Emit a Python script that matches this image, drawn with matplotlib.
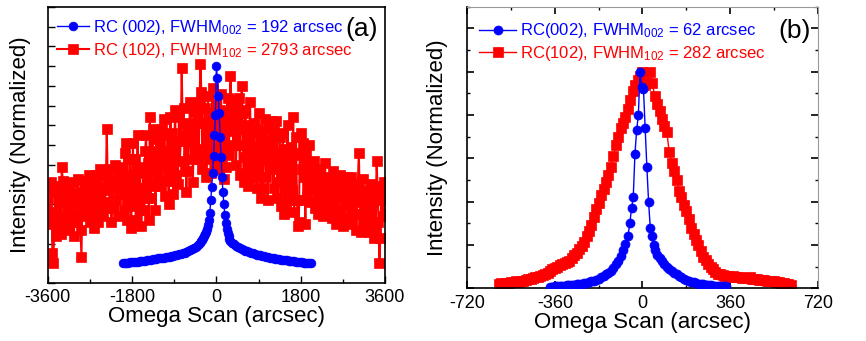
import numpy as np
import matplotlib
matplotlib.use("Agg")
import matplotlib.pyplot as plt
from matplotlib.ticker import MultipleLocator

plt.rcParams['font.family'] = ['Liberation Sans', 'DejaVu Sans']
plt.rcParams['mathtext.default'] = 'regular'
plt.rcParams['axes.unicode_minus'] = False

# ---------------- Panel (a) data ----------------
blue_a_x = list(range(-2000, -300, 40)) + list(range(-300, 301, 20)) + list(range(340, 2021, 40))
blue_a_y = [
    0.002, 0.003, 0.004, 0.004, 0.005, 0.006, 0.007, 0.008, 0.009, 0.010,
    0.012, 0.013, 0.014, 0.016, 0.017, 0.019, 0.020, 0.022, 0.023, 0.025,
    0.026, 0.028, 0.029, 0.031, 0.032, 0.034, 0.036, 0.038, 0.040, 0.042,
    0.045, 0.048, 0.051, 0.054, 0.058, 0.062, 0.066, 0.071, 0.077, 0.084,
    0.093, 0.103, 0.113,
    0.120, 0.128, 0.137, 0.148, 0.160, 0.175, 0.195, 0.220, 0.255, 0.320,
    0.385, 0.460, 0.545, 0.650, 0.750, 1.000, 0.940, 0.850, 0.760, 0.640,
    0.540, 0.440, 0.360, 0.300, 0.245, 0.205, 0.175, 0.155, 0.138, 0.125,
    0.115,
    0.104, 0.096, 0.090, 0.084, 0.078, 0.073, 0.068, 0.064, 0.060, 0.056,
    0.053, 0.050, 0.047, 0.044, 0.042, 0.040, 0.037, 0.035, 0.033, 0.031,
    0.029, 0.027, 0.026, 0.024, 0.022, 0.021, 0.019, 0.018, 0.016, 0.015,
    0.014, 0.012, 0.011, 0.010, 0.008, 0.007, 0.006, 0.005, 0.004, 0.003,
    0.003, 0.002, 0.002]

red_a_start, red_a_step = -3600, 20
red_a_y = [
    0.33, 0.20, 0.38, 0.26, 0.41, 0.05, 0.00, 0.22, 0.36, 0.14,
    0.24, 0.39, 0.19, 0.34, 0.15, 0.49, 0.42, 0.21, 0.32, 0.18,
    0.38, 0.24, 0.30, 0.17, 0.36, 0.41, 0.21, 0.32, 0.14, 0.35,
    0.21, 0.35, 0.43, 0.25, 0.32, 0.17, 0.03, 0.36, 0.28, 0.42,
    0.37, 0.24, 0.42, 0.30, 0.45, 0.21, 0.35, 0.26, 0.40, 0.18,
    0.30, 0.45, 0.25, 0.40, 0.21, 0.36, 0.48, 0.27, 0.38, 0.24,
    0.45, 0.31, 0.37, 0.68, 0.43, 0.48, 0.28, 0.39, 0.21, 0.42,
    0.28, 0.42, 0.50, 0.32, 0.39, 0.24, 0.47, 0.43, 0.35, 0.49,
    0.48, 0.27, 0.56, 0.37, 0.61, 0.22, 0.45, 0.30, 0.53, 0.18,
    0.37, 0.61, 0.29, 0.53, 0.22, 0.46, 0.65, 0.32, 0.49, 0.27,
    0.19, 0.38, 0.48, 0.27, 0.57, 0.65, 0.33, 0.51, 0.22, 0.74,
    0.33, 0.55, 0.68, 0.39, 0.51, 0.27, 0.63, 0.57, 0.44, 0.67,
    0.60, 0.39, 0.68, 0.49, 0.73, 0.34, 0.57, 0.42, 0.65, 0.30,
    0.50, 0.74, 0.42, 0.66, 0.35, 0.59, 0.78, 0.45, 0.62, 0.40,
    0.74, 0.52, 0.62, 0.99, 0.71, 0.79, 0.47, 0.65, 0.36, 0.70,
    0.47, 0.69, 0.82, 0.53, 0.65, 0.41, 0.77, 0.71, 0.58, 0.81,
    0.74, 0.53, 0.82, 1.01, 0.87, 0.48, 0.71, 0.56, 0.79, 0.44,
    0.61, 0.85, 0.53, 0.77, 0.46, 0.70, 0.89, 0.56, 0.73, 0.51,
    0.81, 0.59, 0.69, 0.48, 0.78, 0.86, 0.54, 0.72, 0.43, 0.77,
    0.49, 0.71, 0.84, 0.55, 0.67, 0.95, 0.79, 0.73, 0.60, 0.83,
    0.71, 0.50, 0.79, 0.60, 0.84, 0.45, 0.68, 0.90, 0.76, 0.41,
    0.54, 0.78, 0.46, 0.70, 0.39, 0.63, 0.82, 0.49, 0.66, 0.44,
    0.71, 0.49, 0.59, 0.38, 0.68, 0.76, 0.44, 0.62, 0.33, 0.67,
    0.38, 0.60, 0.73, 0.44, 0.56, 0.32, 0.68, 0.62, 0.49, 0.72,
    0.59, 0.38, 0.67, 0.48, 0.72, 0.33, 0.56, 0.41, 0.64, 0.29,
    0.42, 0.66, 0.25, 0.58, 0.27, 0.51, 0.70, 0.37, 0.54, 0.32,
    0.59, 0.37, 0.74, 0.26, 0.56, 0.64, 0.32, 0.19, 0.21, 0.55,
    0.66, 0.48, 0.61, 0.32, 0.44, 0.20, 0.56, 0.50, 0.37, 0.60,
    0.44, 0.31, 0.49, 0.37, 0.52, 0.28, 0.42, 0.33, 0.47, 0.25,
    0.33, 0.48, 0.28, 0.43, 0.24, 0.39, 0.51, 0.30, 0.41, 0.27,
    0.44, 0.30, 0.36, 0.23, 0.42, 0.47, 0.27, 0.38, 0.20, 0.41,
    0.23, 0.37, 0.45, 0.27, 0.34, 0.19, 0.42, 0.38, 0.30, 0.44,
    0.36, 0.23, 0.41, 0.29, 0.44, 0.20, 0.34, 0.25, 0.39, 0.17,
    0.25, 0.40, 0.56, 0.35, 0.16, 0.31, 0.43, 0.22, 0.33, 0.19,
    0.37, 0.23, 0.29, 0.16, 0.35, 0.40, 0.20, 0.31, 0.13, 0.34,
    0.17, 0.52, 0.39, 0.21, 0.00, 0.13, 0.36, 0.32, 0.24, 0.41,
    0.25]
red_a_x = red_a_start + red_a_step * np.arange(len(red_a_y))

# ---------------- Panel (b) data ----------------
blue_b_x = (list(range(-380, -59, 10)) + [-52, -45, -38, -31, -24, -17, -10, -3, 4, 11, 18, 25, 32, 39, 46, 53]
            + list(range(60, 331, 10)) + [345])
blue_b_y = [
    0.008, 0.008, 0.009, 0.009, 0.010, 0.011, 0.012, 0.013, 0.014, 0.015,
    0.017, 0.018, 0.020, 0.022, 0.024, 0.026, 0.029, 0.032, 0.036, 0.040,
    0.045, 0.050, 0.056, 0.064, 0.072, 0.082, 0.095, 0.110, 0.128, 0.150,
    0.175, 0.205, 0.240,
    0.300, 0.370, 0.420, 0.620, 0.730, 0.800, 1.000, 0.930, 0.920, 0.740,
    0.560, 0.400, 0.280, 0.240, 0.200, 0.175,
    0.155, 0.138, 0.128, 0.113, 0.100, 0.088, 0.078, 0.070, 0.064, 0.058,
    0.050, 0.044, 0.039, 0.034, 0.030, 0.027, 0.024, 0.022, 0.020, 0.018,
    0.016, 0.015, 0.013, 0.012, 0.011, 0.010, 0.010, 0.009, 0.009]

red_b_start, red_b_step = -590, 10
red_b_y = [
    0.020, 0.024, 0.022, 0.026, 0.024, 0.030, 0.028, 0.032, 0.030, 0.035,
    0.034, 0.040, 0.044, 0.042, 0.048, 0.052, 0.050, 0.058, 0.062, 0.066,
    0.072, 0.080, 0.088, 0.095, 0.100, 0.106, 0.112, 0.118, 0.122, 0.128,
    0.140, 0.152, 0.165, 0.180, 0.195, 0.215, 0.240, 0.265, 0.290, 0.330,
    0.365, 0.395, 0.430, 0.460, 0.490, 0.525, 0.560, 0.610, 0.660, 0.700,
    0.740, 0.765, 0.790, 0.830, 0.870, 0.910, 0.940, 0.960, 0.980, 1.000,
    0.940, 0.950, 1.000, 0.950, 0.890, 0.850, 0.820, 0.780, 0.750, 0.720,
    0.630, 0.580, 0.540, 0.500, 0.450, 0.420, 0.385, 0.355, 0.320, 0.280,
    0.250, 0.225, 0.200, 0.170, 0.146, 0.130, 0.110, 0.100, 0.088, 0.075,
    0.068, 0.064, 0.060, 0.058, 0.055, 0.054, 0.056, 0.052, 0.050, 0.052,
    0.048, 0.046, 0.048, 0.050, 0.044, 0.042, 0.045, 0.040, 0.038, 0.040,
    0.036, 0.034, 0.036, 0.032, 0.030, 0.028, 0.026, 0.024, 0.022, 0.018,
    0.015]
red_b_x = red_b_start + red_b_step * np.arange(len(red_b_y))

labels_a = ["RC (002), FWHM$_{002}$ = 192 arcsec", "RC (102), FWHM$_{102}$ = 2793 arcsec"]
labels_b = ["RC(002), FWHM$_{002}$ = 62 arcsec", "RC(102), FWHM$_{102}$ = 282 arcsec"]
xticks_a = [-3600, -1800, 0, 1800, 3600]
xticks_b = [-720, -360, 0, 360, 720]

BLUE = '#0000ff'
RED = '#ff0000'

fig = plt.figure(figsize=(8.66, 3.41), dpi=100)
ax1 = fig.add_axes([0.0551, 0.170, 0.3895, 0.8094])
ax2 = fig.add_axes([0.5396, 0.1545, 0.4046, 0.8258])

# Panel (a)
ax1.plot(red_a_x, red_a_y, '-s', color=RED, lw=1.5, ms=7.0, mec=RED, mew=0.5, label=labels_a[1], zorder=2)
ax1.plot(blue_a_x, blue_a_y, '-o', color=BLUE, lw=1.0, ms=6.3, mec=BLUE, mew=0.5, label=labels_a[0], zorder=3)
ax1.set_xlim(-3600, 3600)
ax1.set_ylim(-0.1, 1.3)
ax1.set_xticks(xticks_a)
ax1.set_xticklabels([str(t) for t in xticks_a])
ax1.xaxis.set_minor_locator(MultipleLocator(900))
ax1.yaxis.set_major_locator(MultipleLocator(0.1))
ax1.set_yticklabels([])
ax1.tick_params(axis='both', which='major', direction='in', length=5, width=1, labelsize=13, pad=4)
ax1.tick_params(axis='both', which='minor', direction='in', length=3, width=1)
ax1.tick_params(axis='y', which='both', left=True, labelleft=False)
ax1.set_xlabel("Omega Scan (arcsec)", fontsize=16, labelpad=0)
ax1.set_ylabel("Intensity (Normalized)", fontsize=16, labelpad=12)
for s in ax1.spines.values():
    s.set_linewidth(1.2)
h, l = ax1.get_legend_handles_labels()
ax1.legend([h[1], h[0]], [l[1], l[0]], loc='upper left', bbox_to_anchor=(0.028, 0.962),
           frameon=False, fontsize=12, handlelength=1.9, handletextpad=0.25,
           labelspacing=0.25, borderpad=0, borderaxespad=0, labelcolor='linecolor')
ax1.text(0.932, 0.922, "(a)", transform=ax1.transAxes, fontsize=19, ha='center', va='center')

# Panel (b)
ax2.plot(red_b_x, red_b_y, '-s', color=RED, lw=1.0, ms=7.0, mec=RED, mew=0.5, label=labels_b[1], zorder=2)
ax2.plot(blue_b_x, blue_b_y, '-o', color=BLUE, lw=1.0, ms=6.5, mec=BLUE, mew=0.5, label=labels_b[0], zorder=3)
ax2.set_xlim(-720, 720)
ax2.set_ylim(0, 1.3)
ax2.set_xticks(xticks_b)
ax2.set_xticklabels([str(t) for t in xticks_b])
ax2.xaxis.set_minor_locator(MultipleLocator(180))
ax2.yaxis.set_major_locator(MultipleLocator(0.2))
ax2.yaxis.set_minor_locator(MultipleLocator(0.1))
ax2.tick_params(axis='both', which='major', direction='in', length=5, width=1.2, labelsize=13, pad=5,
                top=True, right=True)
ax2.tick_params(axis='both', which='minor', direction='in', length=2.5, width=1, top=True, right=True)
ax2.tick_params(axis='y', which='both', labelleft=False)
ax2.set_xlabel("Omega Scan (arcsec)", fontsize=16, labelpad=0)
ax2.set_ylabel("Intensity (Normalized)", fontsize=16, labelpad=14)
ax2.spines['left'].set_linewidth(1.2)
ax2.spines['bottom'].set_linewidth(1.2)
ax2.spines['top'].set_color('#999999')
ax2.spines['right'].set_color('#999999')
h, l = ax2.get_legend_handles_labels()
ax2.legend([h[1], h[0]], [l[1], l[0]], loc='upper left', bbox_to_anchor=(0.034, 0.948),
           frameon=False, fontsize=12, handlelength=2.2, handletextpad=0.25,
           labelspacing=0.2, borderpad=0, borderaxespad=0, labelcolor='linecolor')
ax2.text(0.934, 0.915, "(b)", transform=ax2.transAxes, fontsize=19, ha='center', va='center')

fig.savefig("out.png", dpi=100)
